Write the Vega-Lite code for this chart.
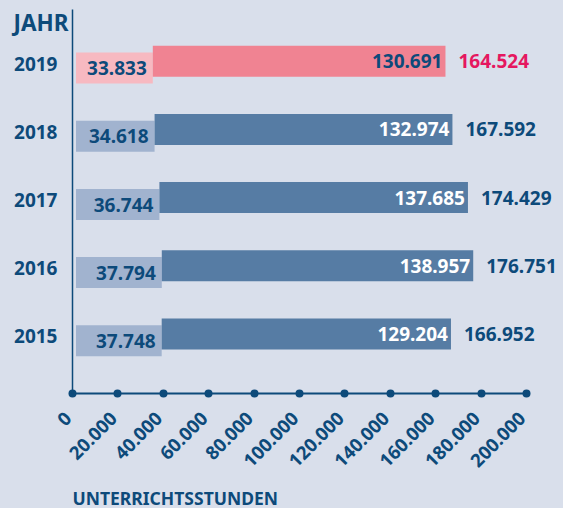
{
  "$schema": "https://vega.github.io/schema/vega-lite/v6.json",
  "width": 454,
  "height": 384,
  "autosize": {"type": "none"},
  "padding": {"left": 72, "top": 9, "right": 37, "bottom": 115},
  "background": "#d9dfeb",
  "config": {
    "view": {"stroke": null},
    "font": "Noto Sans",
    "locale": {"number": {"decimal": ",", "thousands": ".", "grouping": [3], "currency": ["", " €"]}}
  },
  "data": {
    "values": [
      {"year": 2019, "light": 33833, "dark": 130691, "total": 164524},
      {"year": 2018, "light": 34618, "dark": 132974, "total": 167592},
      {"year": 2017, "light": 36744, "dark": 137685, "total": 174429},
      {"year": 2016, "light": 37794, "dark": 138957, "total": 176751},
      {"year": 2015, "light": 37748, "dark": 129204, "total": 166952}
    ]
  },
  "encoding": {
    "y": {
      "field": "year", "type": "ordinal", "sort": "descending",
      "scale": {"paddingInner": 0.545, "paddingOuter": 0.588},
      "axis": {
        "title": "JAHR", "titleAngle": 0, "titleX": -4, "titleY": 14,
        "titleAlign": "right", "titleBaseline": "middle", "titleLimit": 200,
        "titleFontSize": 22.5, "titleFontWeight": "bold", "titleColor": "#0d4a7a", "titleFont": "Noto Sans",
        "labelFontSize": 19, "labelFontWeight": "bold", "labelColor": "#0d4a7a", "labelFont": "Noto Sans",
        "labelPadding": 15, "ticks": false, "domainColor": "#0d4a7a", "domainWidth": 1.5, "grid": false
      }
    }
  },
  "layer": [
    {
      "mark": {"type": "bar", "xOffset": 4, "yOffset": 3.4},
      "encoding": {
        "x": {
          "field": "light", "type": "quantitative",
          "scale": {"domain": [0, 200000], "nice": false},
          "axis": {
            "title": "UNTERRICHTSSTUNDEN", "titleAnchor": "start", "titleAlign": "left",
            "titleX": 0, "titleY": 106, "titleBaseline": "middle",
            "titleFontSize": 17.5, "titleFontWeight": "bold", "titleColor": "#0d4a7a", "titleFont": "Noto Sans",
            "values": [0, 20000, 40000, 60000, 80000, 100000, 120000, 140000, 160000, 180000, 200000],
            "format": ",d",
            "labelAngle": -45, "labelAlign": "right", "labelBaseline": "middle",
            "labelPadding": 22, "labelOffset": -4,
            "labelFontSize": 18.5, "labelFontWeight": "bold", "labelColor": "#0d4a7a", "labelFont": "Noto Sans",
            "labelOverlap": false,
            "ticks": true, "tickSize": 0.1, "tickWidth": 8, "tickCap": "round", "tickColor": "#0d4a7a",
            "domainColor": "#0d4a7a", "domainWidth": 1.8, "grid": false
          }
        },
        "color": {
          "condition": {"test": "datum.year === 2019", "value": "#f7b9c1"},
          "value": "#a1b3cf"
        }
      }
    },
    {
      "mark": {"type": "bar", "xOffset": 4, "yOffset": -3.4},
      "encoding": {
        "x": {"field": "light", "type": "quantitative"},
        "x2": {"field": "total"},
        "color": {
          "condition": {"test": "datum.year === 2019", "value": "#f08392"},
          "value": "#567ca4"
        }
      }
    },
    {
      "mark": {"type": "text", "align": "right", "baseline": "middle", "dx": -2, "dy": 4.6, "fontSize": 19, "fontWeight": "bold", "color": "#0d4a7a"},
      "encoding": {
        "x": {"field": "light", "type": "quantitative"},
        "text": {"field": "light", "type": "quantitative", "format": ",d"}
      }
    },
    {
      "mark": {"type": "text", "align": "right", "baseline": "middle", "dx": -3, "dy": -2.4, "fontSize": 19, "fontWeight": "bold"},
      "encoding": {
        "x": {"field": "total", "type": "quantitative"},
        "text": {"field": "dark", "type": "quantitative", "format": ",d"},
        "color": {
          "condition": {"test": "datum.year === 2019", "value": "#0d4a7a"},
          "value": "#ffffff"
        }
      }
    },
    {
      "mark": {"type": "text", "align": "left", "baseline": "middle", "dx": 13, "dy": -2.4, "fontSize": 19, "fontWeight": "bold"},
      "encoding": {
        "x": {"field": "total", "type": "quantitative"},
        "text": {"field": "total", "type": "quantitative", "format": ",d"},
        "color": {
          "condition": {"test": "datum.year === 2019", "value": "#e5175f"},
          "value": "#0d4a7a"
        }
      }
    }
  ]
}
